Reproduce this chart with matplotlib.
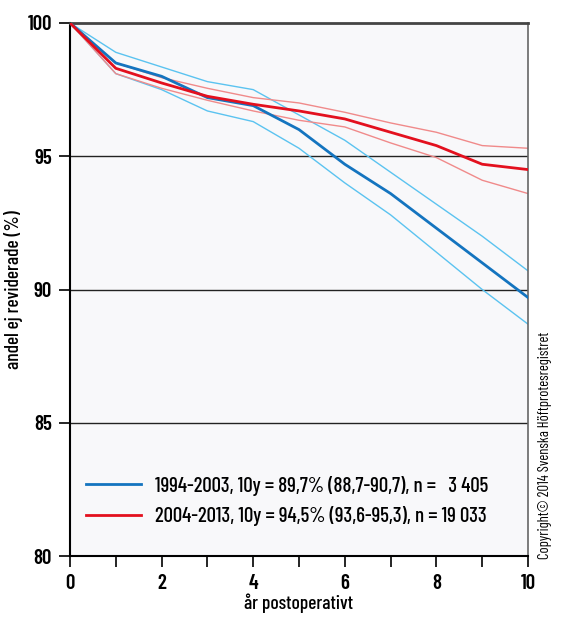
import numpy as np
import matplotlib as mpl
mpl.use('Agg')
import matplotlib.pyplot as plt

years = list(range(11))

# 1994-2003
blue_mid = [100, 98.5, 98.0, 97.2, 96.9, 96.0, 94.7, 93.6, 92.3, 91.0, 89.7]
blue_hi = [100, 98.9, 98.35, 97.8, 97.5, 96.55, 95.6, 94.4, 93.2, 92.0, 90.7]
blue_lo = [100, 98.1, 97.5, 96.7, 96.3, 95.3, 94.0, 92.8, 91.4, 90.0, 88.7]

# 2004-2013
red_mid = [100, 98.3, 97.75, 97.25, 96.95, 96.7, 96.4, 95.9, 95.4, 94.7, 94.5]
red_hi = [100, 98.5, 97.95, 97.55, 97.2, 97.0, 96.65, 96.25, 95.9, 95.4, 95.3]
red_lo = [100, 98.1, 97.55, 97.1, 96.7, 96.35, 96.1, 95.5, 94.95, 94.1, 93.6]

labels = ['1994-2003, 10y = 89,7% (88,7-90,7), n =   3 405',
          '2004-2013, 10y = 94,5% (93,6-95,3), n = 19 033']

plt.rcParams['font.family'] = ['Barlow Condensed', 'DejaVu Sans']

fig = plt.figure(figsize=(5.64, 6.21), dpi=100, facecolor='w')
ax = fig.add_axes([70/564, 1-556/621, (528-70)/564, (556-23)/621])
ax.set_facecolor('#f8f8fa')

for v in [85, 90, 95]:
    ax.axhline(v, color='#222222', linewidth=1.0, zorder=1)

ax.plot(years, blue_hi, color='#5bc3f0', linewidth=1.0, zorder=2)
ax.plot(years, blue_lo, color='#5bc3f0', linewidth=1.0, zorder=2)
ax.plot(years, red_hi, color='#f08a8a', linewidth=1.0, zorder=2)
ax.plot(years, red_lo, color='#f08a8a', linewidth=1.0, zorder=2)
ax.plot(years, blue_mid, color='#1474bf', linewidth=2.0, label=labels[0], zorder=3)
ax.plot(years, red_mid, color='#e3101e', linewidth=2.0, label=labels[1], zorder=3)

ax.set_xlim(0, 10)
ax.set_ylim(80, 100)
ax.set_xticks(range(0, 11, 2))
ax.set_xticks(range(11), minor=True)
ax.set_yticks([80, 85, 90, 95, 100])
ax.tick_params(axis='both', which='major', labelsize=15, length=8, width=1.2,
               direction='out', pad=5)
ax.tick_params(axis='x', which='minor', length=8, width=1.2, direction='out')
for lab in ax.get_xticklabels() + ax.get_yticklabels():
    lab.set_fontweight('semibold')

ax.spines['left'].set_color('black')
ax.spines['left'].set_linewidth(1.5)
ax.spines['bottom'].set_color('black')
ax.spines['bottom'].set_linewidth(1.5)
ax.spines['top'].set_color('#444444')
ax.spines['top'].set_linewidth(2)
ax.spines['right'].set_color('#666666')
ax.spines['right'].set_linewidth(1.2)

ax.set_xlabel('år postoperativt', fontsize=14, fontweight='medium', labelpad=0)
ax.set_ylabel('andel ej reviderade (%)', fontsize=14, fontweight='medium', labelpad=3)

leg = ax.legend(loc='lower left', bbox_to_anchor=(-0.007, 0.021), frameon=False,
                prop={'size': 15, 'weight': 'medium'},
                handlelength=2.65, handletextpad=0.7, labelspacing=0.5)

fig.text(545/564, 1-445/621, 'Copyright© 2014 Svenska Höftprotesregistret',
         rotation=90, fontsize=10.5, ha='center', va='center')

fig.savefig('out.png', dpi=100, facecolor='w')
